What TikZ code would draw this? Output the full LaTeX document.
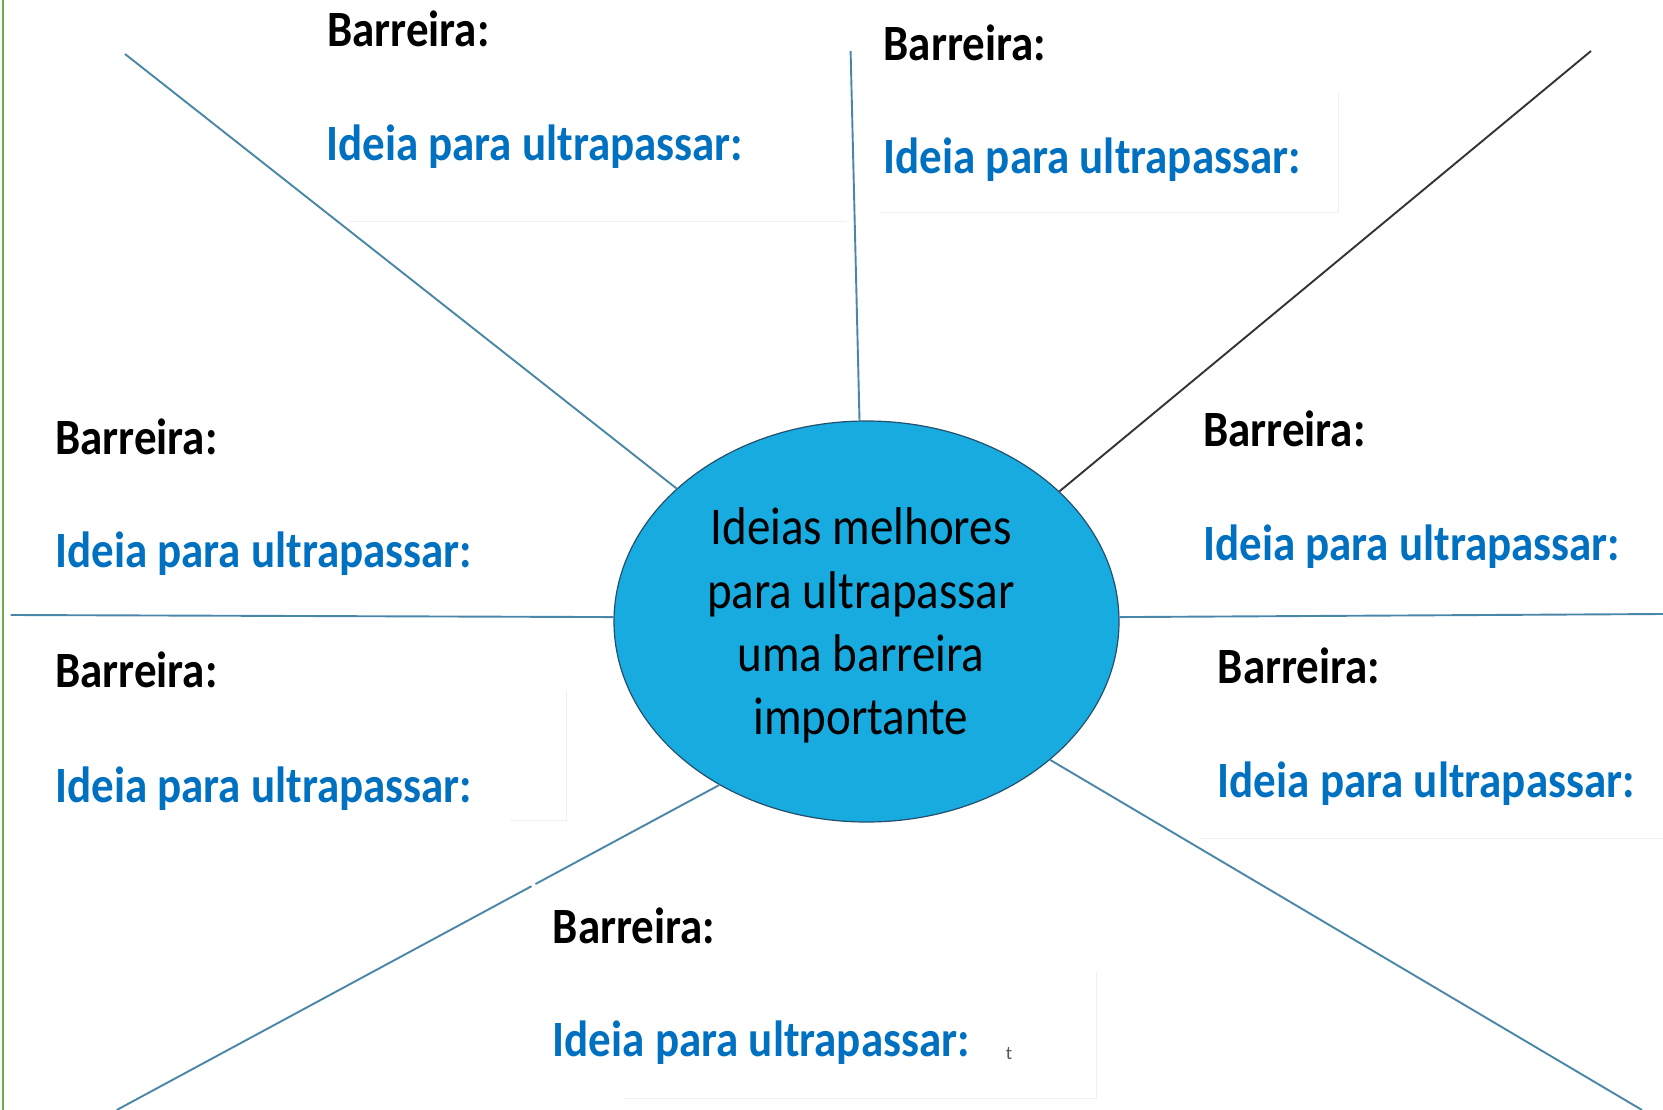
\documentclass[tikz,border=0pt]{standalone}
\usepackage{fontspec}
\setmainfont{Carlito}
\usepackage{graphicx}
\usetikzlibrary{shapes.geometric}
\definecolor{spoke}{HTML}{4A86A8}
\definecolor{darkspoke}{HTML}{333333}
\definecolor{ideablue}{HTML}{0070C0}
\definecolor{ellfill}{HTML}{17ABDF}
\definecolor{ellline}{HTML}{24506E}
\definecolor{framegreen}{HTML}{70AD47}
\newcommand\vstretch[1]{\scalebox{1}[1.13]{#1}}
\begin{document}
\begin{tikzpicture}[x=1pt,y=-1pt,
  spokeline/.style={draw=spoke,line width=1.9pt},
  barlabel/.style={anchor=base west,inner sep=0pt,font=\fontsize{45}{54}\selectfont\bfseries,text=black},
  idealabel/.style={barlabel,text=ideablue},
  faint/.style={draw=black!6,line width=1pt}]
\useasboundingbox (0,0) rectangle (1663,1110);
\fill[white] (0,0) rectangle (1663,1110);
% green frame line on the left
\draw[framegreen,line width=2pt] (3,0) -- (3,1110);

% faint text-box edges
\draw[faint] (350,222) -- (846,222);
\draw[faint] (880,213) -- (1338,213) -- (1338,93);
\draw[faint] (510,820) -- (566,820) -- (566,690);
\draw[faint] (1200,838) -- (1663,838);
\draw[faint] (625,1098) -- (1096,1098) -- (1096,972);

% central ellipse
\node[ellipse,draw=ellline,line width=1.2pt,fill=ellfill,minimum width=505pt,minimum height=401pt,inner sep=0pt]
  (e) at (866.5,621.5) {};
\node[inner sep=0pt,font=\fontsize{47}{56}\selectfont] (etext) at (861,627)
  {\vstretch{\begin{tabular}{@{}c@{}}Ideias melhores\\para ultrapassar\\uma barreira\\importante\end{tabular}}};

% outer ends of spokes
\coordinate (o1) at (125,54);
\coordinate (o2) at (850.6,51);
\coordinate (o3) at (1591,51);
\coordinate (o4) at (10.6,615);
\coordinate (o5) at (1663,614);
\coordinate (o6) at (1642,1110);
\coordinate (o7) at (116.7,1110);
\coordinate (g1) at (535.5,884);
\coordinate (g2) at (531.5,886.2);

\draw[spokeline] (e.145.7) -- (o1);
\draw[spokeline] (e.92.7) -- (o2);
\draw[draw=darkspoke,line width=1.9pt] (e.34.4) -- (o3);
\draw[spokeline] (e.179.2) -- (o4);
\draw[spokeline] (e.1.7) -- (o5);
\draw[spokeline] (e.-37.8) -- (o6);
\draw[spokeline] (e.-132.3) -- (g1);
\draw[spokeline] (g2) -- (o7);

% labels
\node[barlabel] (b1) at (327,47) {\vstretch{Barreira:}};
\node[idealabel] (i1) at (326,161) {\vstretch{Ideia para ultrapassar:}};
\node[barlabel] (b2) at (883.5,60.5) {\vstretch{Barreira:}};
\node[idealabel] (i2) at (883.5,174) {\vstretch{Ideia para ultrapassar:}};
\node[barlabel] (b3) at (55,454) {\vstretch{Barreira:}};
\node[idealabel] (i3) at (55,567) {\vstretch{Ideia para ultrapassar:}};
\node[barlabel] (b4) at (1203,446.5) {\vstretch{Barreira:}};
\node[idealabel] (i4) at (1203,560) {\vstretch{Ideia para ultrapassar:}};
\node[barlabel] (b5) at (55,687) {\vstretch{Barreira:}};
\node[idealabel] (i5) at (55,802) {\vstretch{Ideia para ultrapassar:}};
\node[barlabel] (b6) at (1217.6,683) {\vstretch{Barreira:}};
\node[idealabel] (i6) at (1217.6,797.6) {\vstretch{Ideia para ultrapassar:}};
\node[barlabel] (b7) at (552.6,943) {\vstretch{Barreira:}};
\node[idealabel] (i7) at (552.6,1056) {\vstretch{Ideia para ultrapassar:}};
\node[anchor=base,inner sep=0pt,font=\fontsize{19}{22}\selectfont,text=black!65] (tmark) at (1009,1059) {t};
\end{tikzpicture}
\end{document}
